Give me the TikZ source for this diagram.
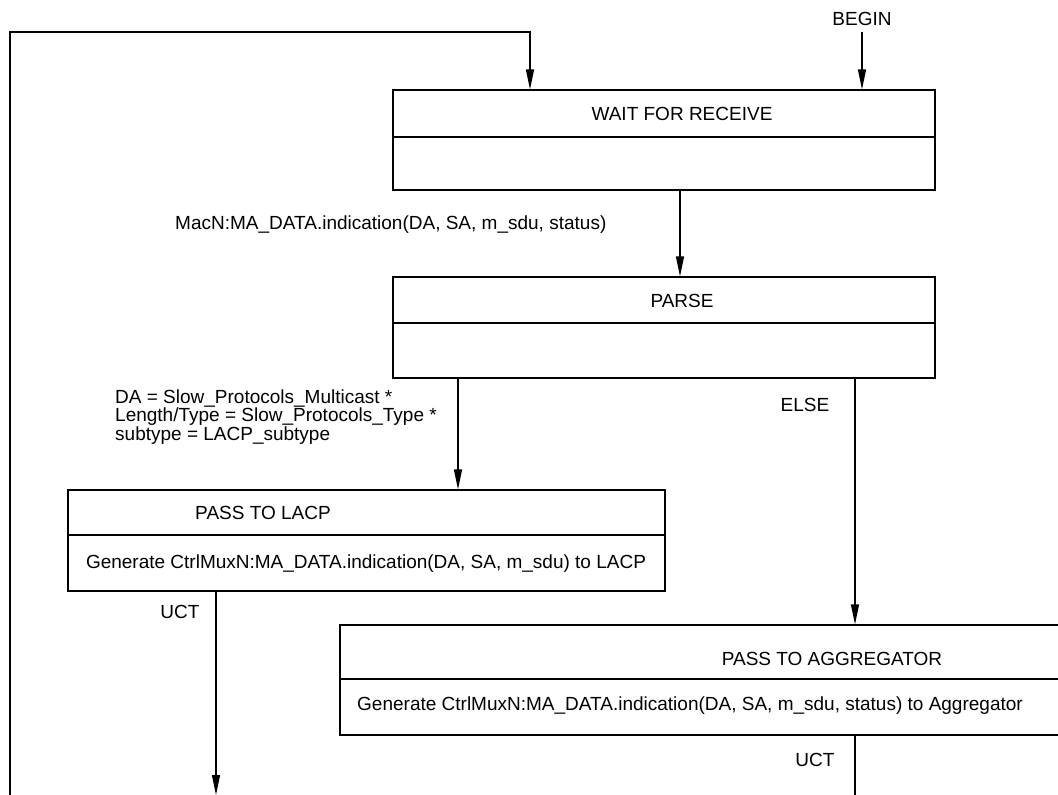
\documentclass[tikz,border=0pt]{standalone}
\usepackage{fontspec}
\setmainfont{Liberation Sans}
\usetikzlibrary{arrows.meta, positioning, calc}

\begin{document}
\begin{tikzpicture}[
  x=1pt, y=-1pt,
  state/.style={draw, line width=1.2pt, inner sep=0pt},
  lbl/.style={font=\fontsize{19}{21}\selectfont, inner sep=0pt},
  wire/.style={line width=1.2pt},
  arrow/.style={wire, -{Triangle[length=20pt, width=8pt]}}
]
  \useasboundingbox (0,0) rectangle (1058,795);

  % state boxes
  \node[state, minimum width=542pt, minimum height=100pt] (wait) at (664, 140) {};
  \node[state, minimum width=542pt, minimum height=101pt] (parse) at (664, 327.5) {};
  \node[state, minimum width=597pt, minimum height=101pt] (lacp) at (366.5, 540.5) {};
  \node[state, minimum width=724pt, minimum height=110pt] (agg) at (702, 680) {};

  % dividers
  \coordinate (waitdiv) at (0, 137);
  \coordinate (parsediv) at (0, 323);
  \coordinate (lacpdiv) at (0, 535);
  \coordinate (aggdiv) at (0, 679);
  \draw[wire] (wait.west |- waitdiv) -- (wait.east |- waitdiv);
  \draw[wire] (parse.west |- parsediv) -- (parse.east |- parsediv);
  \draw[wire] (lacp.west |- lacpdiv) -- (lacp.east |- lacpdiv);
  \draw[wire] (agg.west |- aggdiv) -- (agg.east |- aggdiv);

  % texts in the boxes
  \node[lbl] (waitT) at (682, 114) {WAIT FOR RECEIVE};
  \node[lbl] (parseT) at (682, 301) {PARSE};
  \node[lbl] (lacpT) at (263, 513) {PASS TO LACP};
  \node[lbl] (lacpB) at (366, 564) {Generate CtrlMuxN:MA\_DATA.indication(DA, SA, m\_sdu) to LACP};
  \node[lbl] (aggT) at (832, 659) {PASS TO AGGREGATOR};
  \node[lbl, anchor=west] (aggB) at (357, 706) {Generate CtrlMuxN:MA\_DATA.indication(DA, SA, m\_sdu, status) to Aggregator};

  % connectors
  \node[lbl] (begin) at (862, 19) {BEGIN};
  \coordinate (beginin) at (862, 32);
  \draw[arrow] (beginin) -- (beginin |- wait.north);

  \coordinate (loopend) at (10, 795);
  \coordinate (looptop) at (530, 32);
  \draw[arrow] (loopend) |- (looptop) -- (looptop |- wait.north);

  \coordinate (recv) at (680, 0);
  \draw[arrow] (recv |- wait.south) -- (recv |- parse.north);
  \node[lbl, anchor=west] (recvL) at (175, 225) {MacN:MA\_DATA.indication(DA, SA, m\_sdu, status)};

  \coordinate (lacpin) at (458, 0);
  \draw[arrow] (lacpin |- parse.south) -- (lacpin |- lacp.north);
  \node[lbl, anchor=west, align=left, font=\fontsize{19}{16.5}\selectfont] (lacpL) at (115, 417)
    {DA = Slow\_Protocols\_Multicast *\\Length/Type = Slow\_Protocols\_Type *\\subtype = LACP\_subtype};

  \coordinate (aggin) at (855, 0);
  \draw[arrow] (aggin |- parse.south) -- (aggin |- agg.north);
  \node[lbl] (elseL) at (805, 405) {ELSE};

  \coordinate (lacpout) at (216, 795);
  \draw[arrow] (lacpout |- lacp.south) -- (lacpout);
  \node[lbl] (lacpU) at (180, 612) {UCT};

  \coordinate (aggout) at (855, 795);
  \draw[wire] (aggout |- agg.south) -- (aggout);
  \node[lbl] (aggU) at (815, 760) {UCT};
\end{tikzpicture}
\end{document}
